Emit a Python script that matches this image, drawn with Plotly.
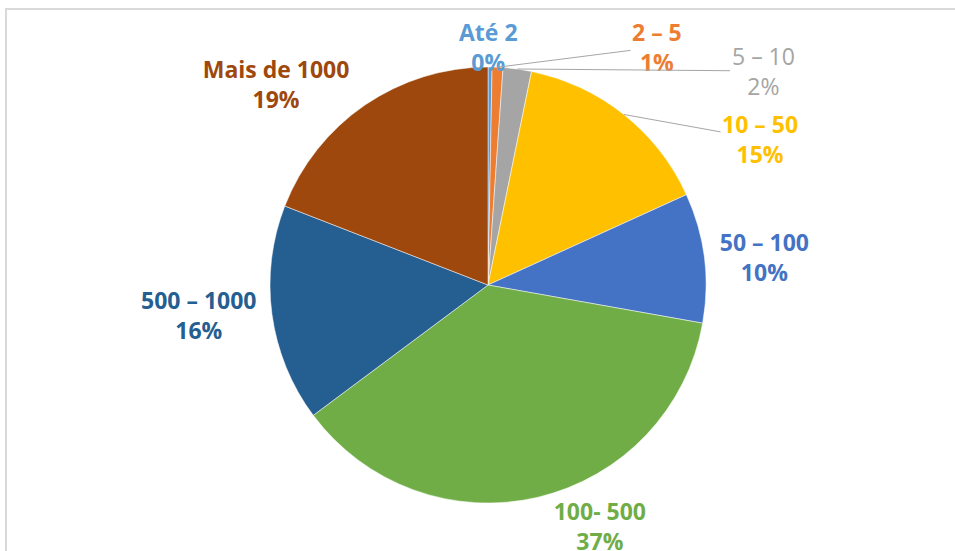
import math
import plotly.graph_objects as go

# faixas (categories) and their shares
labels = ["Até 2", "2 – 5", "5 – 10", "10 – 50", "50 – 100", "100- 500", "500 – 1000", "Mais de 1000"]
shares = [0.3, 0.8, 2.1, 15.0, 9.6, 37.0, 16.1, 19.1]
colors = ["#5B9BD5", "#ED7D31", "#A5A5A5", "#FFC000", "#4472C4", "#70AD47", "#255E91", "#9E480E"]

W, H = 955, 551
cx, cy, r = 488, 285, 218
FONT = "Open Sans"
FSIZE = 23

# the four small top slices get callout labels (centre of text block, px)
callouts = {
    "Até 2": (489, 47),
    "2 – 5": (657, 47),
    "5 – 10": (763, 71),
    "10 – 50": (760, 139),
}

total = sum(shares)
pct = [round(v / total * 100) for v in shares]


def fmt(lab, p):
    if lab == "5 – 10":
        return f"{lab}<br>{p}%"
    return f"<b>{lab}</b><br><b>{p}%</b>"


texts = ["" if lab in callouts else fmt(lab, p) for lab, p in zip(labels, pct)]
positions = ["none" if lab in callouts else "outside" for lab in labels]

fig = go.Figure()
fig.add_trace(
    go.Pie(
        labels=labels,
        values=shares,
        sort=False,
        direction="clockwise",
        rotation=0,
        marker=dict(colors=colors, line=dict(color="white", width=0.5)),
        text=texts,
        textinfo="text",
        textposition=positions,
        textfont=dict(color=colors, size=FSIZE, family=FONT),
        automargin=False,
        showlegend=False,
        hoverinfo="label+percent",
        domain=dict(
            x=[(cx - r) / W, (cx + r) / W],
            y=[(H - cy - r) / H, (H - cy + r) / H],
        ),
    )
)

# leader lines start at the rim, at each slice's mid angle
annotations = []
cum = 0.0
for lab, v, p, col in zip(labels, shares, pct, colors):
    mid = (cum + v / 2) / total * 2 * math.pi
    cum += v
    if lab not in callouts:
        continue
    px = cx + r * math.sin(mid)
    py = cy - r * math.cos(mid)
    tx, ty = callouts[lab]
    annotations.append(
        dict(
            x=px / W, y=1 - py / H, xref="paper", yref="paper",
            ax=tx - px, ay=ty - py,
            text=fmt(lab, p),
            font=dict(color=col, size=FSIZE, family=FONT),
            showarrow=True, arrowhead=0, arrowwidth=1,
            arrowcolor="rgba(0,0,0,0)" if lab == "Até 2" else "#A6A6A6",
            standoff=0,
        )
    )

fig.update_layout(
    width=W,
    height=H,
    margin=dict(l=0, r=0, t=0, b=0, autoexpand=False),
    paper_bgcolor="white",
    font=dict(family=FONT),
    annotations=annotations,
    shapes=[
        dict(
            type="rect", xref="paper", yref="paper",
            x0=6 / W, x1=1.05, y0=-0.05, y1=1 - 9 / H,
            line=dict(color="#D9D9D9", width=2),
        )
    ],
)
# drop the default page margin so the figure sits at the window corner
fig.write_html(
    "out.html",
    config={"displayModeBar": False},
    post_script="document.body.style.margin='0';document.body.style.overflow='hidden';",
)
